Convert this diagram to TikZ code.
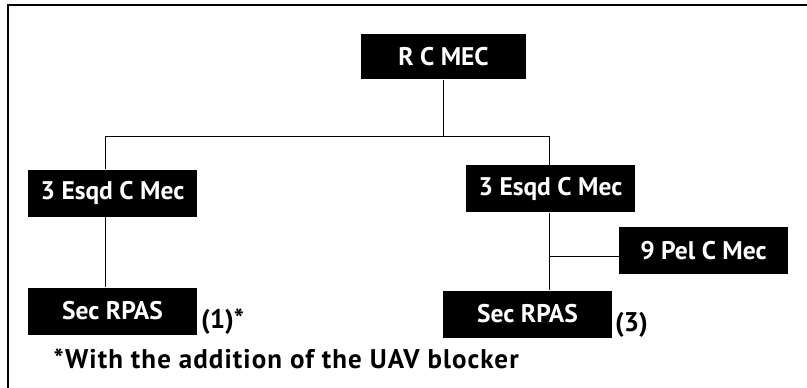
\documentclass[tikz,border=0pt]{standalone}
\usepackage{fontspec}
\setmainfont{PT Sans}
\usepackage{tikz}

\tikzset{unit/.style={fill=black,text=white,font=\bfseries\fontsize{25.5}{30}\selectfont,
  minimum width=169pt,minimum height=47pt,inner sep=0pt},
  remark/.style={inner sep=0pt,font=\bfseries\fontsize{27}{32}\selectfont}}

\begin{document}
\begin{tikzpicture}[x=1pt,y=-1pt,line width=1pt]
\useasboundingbox (0,0) rectangle (807,388);
\draw[line width=2pt] (8,388) -- (8,5) -- (807,5);

\node[unit,minimum width=165pt,minimum height=45pt] (RC) at (443.5,56.5) {R C MEC};
\node[unit] (EL) at (112.5,193) {3 Esqd C Mec};
\node[unit] (ER) at (550.5,188.5) {3 Esqd C Mec};
\node[unit] (PEL) at (703.5,250.5) {9 Pel C Mec};
\node[unit] (SL) at (112.5,311) {Sec RPAS};
\node[unit] (SR) at (527.5,314) {Sec RPAS};
\coordinate (busL) at (105,136);
\coordinate (busR) at (549,136);
\coordinate (tap) at (549,256);

\draw (RC.south) -- (RC.south |- busL);
\draw (busL) -- (busR);
\draw (busL) -- (busL |- EL.north);
\draw (busR) -- (busR |- ER.north);
\draw (EL.south -| busL) -- (SL.north -| busL);
\draw (ER.south -| busR) -- (SR.north -| busR);
\draw (tap) -- (tap -| PEL.west);

\node[remark,anchor=south west] (n1) at ([xshift=3pt]SL.south east) {(1)*};
\node[remark,anchor=south west] (n3) at ([xshift=2pt]SR.south east) {(3)};
\node[remark,anchor=base west] (note) at (53,368) {\addfontfeature{LetterSpace=4}*With the addition of the UAV blocker};

\end{tikzpicture}
\end{document}
